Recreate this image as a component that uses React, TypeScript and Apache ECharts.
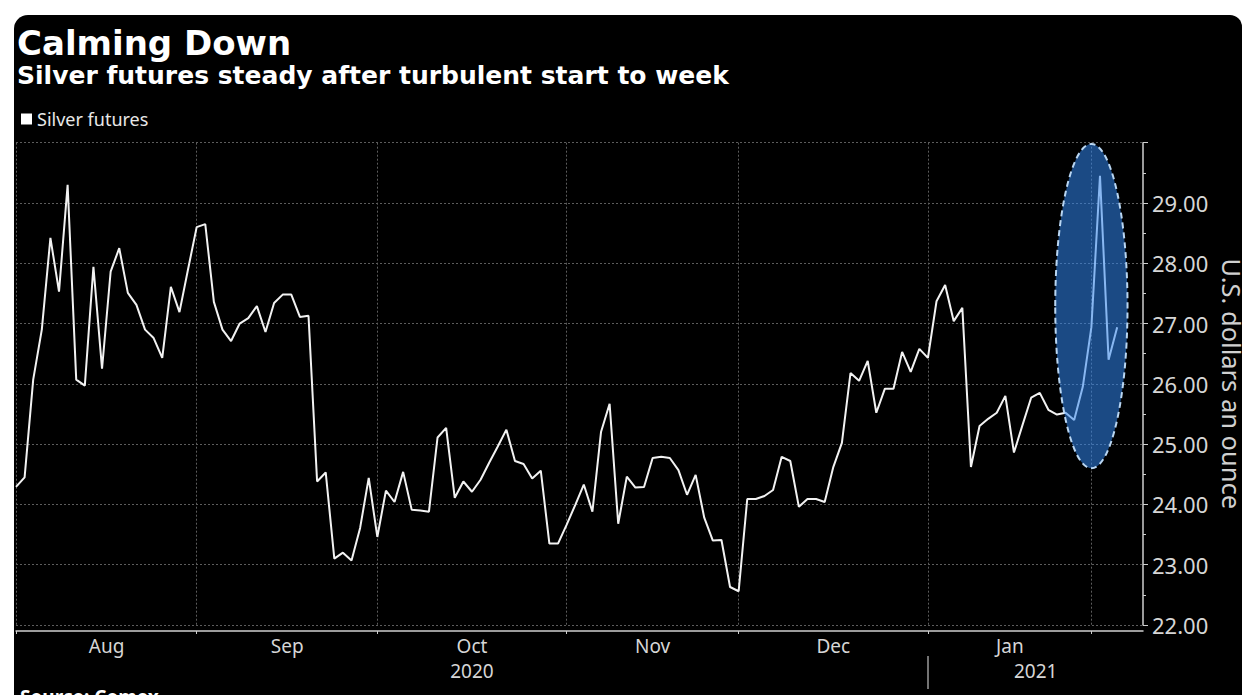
import React, { useEffect, useRef } from "react";
import * as echarts from "echarts";

// Trading days (categories)
const jul2020 = [31];
const aug2020 = [3, 4, 5, 6, 7, 10, 11, 12, 13, 14, 17, 18, 19, 20, 21, 24, 25, 26, 27, 28, 31];
const sep2020 = [1, 2, 3, 4, 8, 9, 10, 11, 14, 15, 16, 17, 18, 21, 22, 23, 24, 25, 28, 29, 30];
const oct2020 = [1, 2, 5, 6, 7, 8, 9, 12, 13, 14, 15, 16, 19, 20, 21, 22, 23, 26, 27, 28, 29, 30];
const nov2020 = [2, 3, 4, 5, 6, 9, 10, 11, 12, 13, 16, 17, 18, 19, 20, 23, 24, 25, 27, 30];
const dec2020 = [1, 2, 3, 4, 7, 8, 9, 10, 11, 14, 15, 16, 17, 18, 21, 22, 23, 24, 28, 29, 30, 31];
const jan2021 = [4, 5, 6, 7, 8, 11, 12, 13, 14, 15, 19, 20, 21, 22, 25, 26, 27, 28, 29];
const feb2021 = [1, 2, 3, 4, 5, 8];

// Silver futures closes (USD / oz)
const silverJul = [24.29];
const silverAug = [24.45, 26.07, 26.9, 28.42, 27.53, 29.3, 26.07, 25.97, 27.94, 26.25, 27.86, 28.25, 27.51, 27.31, 26.9, 26.76, 26.43, 27.61, 27.19, 27.9, 28.6];
const silverSep = [28.65, 27.36, 26.9, 26.71, 27.0, 27.09, 27.29, 26.86, 27.34, 27.48, 27.48, 27.11, 27.13, 24.38, 24.53, 23.1, 23.2, 23.07, 23.61, 24.44, 23.46];
const silverOct = [24.23, 24.04, 24.54, 23.91, 23.9, 23.88, 25.11, 25.27, 24.11, 24.38, 24.21, 24.41, 24.69, 24.96, 25.24, 24.72, 24.67, 24.43, 24.56, 23.35, 23.35, 23.66];
const silverNov = [23.99, 24.33, 23.88, 25.2, 25.67, 23.68, 24.46, 24.28, 24.29, 24.77, 24.79, 24.77, 24.57, 24.16, 24.49, 23.78, 23.4, 23.41, 22.63, 22.56];
const silverDec = [24.09, 24.09, 24.14, 24.24, 24.79, 24.72, 23.96, 24.09, 24.09, 24.04, 24.62, 25.02, 26.18, 26.05, 26.38, 25.52, 25.92, 25.92, 26.53, 26.2, 26.58, 26.43];
const silverJan = [27.37, 27.64, 27.04, 27.26, 24.62, 25.3, 25.42, 25.52, 25.8, 24.86, 25.32, 25.77, 25.85, 25.57, 25.49, 25.52, 25.4, 25.95, 26.94];
const silverFeb = [29.45, 26.4, 26.94];

const monthNames = ["Aug", "Sep", "Oct", "Nov", "Dec", "Jan"];
const yearNames = ["2020", "2021"];
const yTicksMin = 22;
const yTicksMax = 30;

// highlighted spike (category index / value) for the ellipse annotation
const spikeCenter = { index: 125, value: 27.29, topValue: 29.98, halfWidthCats: 4.2 };

const pad = (n: number) => (n < 10 ? "0" + n : "" + n);
const mk = (y: number, m: number, days: number[]) => days.map((d) => `${y}-${pad(m)}-${pad(d)}`);
const categories = [
  ...mk(2020, 7, jul2020),
  ...mk(2020, 8, aug2020),
  ...mk(2020, 9, sep2020),
  ...mk(2020, 10, oct2020),
  ...mk(2020, 11, nov2020),
  ...mk(2020, 12, dec2020),
  ...mk(2021, 1, jan2021),
  ...mk(2021, 2, feb2021),
];
const prices = [...silverJul, ...silverAug, ...silverSep, ...silverOct, ...silverNov, ...silverDec, ...silverJan, ...silverFeb];

// month-boundary ticks: last trading day of each month
const tickIdx: number[] = [];
for (let i = 0; i < categories.length - 1; i++) {
  if (categories[i].slice(5, 7) !== categories[i + 1].slice(5, 7)) tickIdx.push(i);
}
const tickSet = new Set(tickIdx);
let yearSep = -1;
for (let i = 0; i < categories.length - 1; i++) {
  if (categories[i].slice(0, 4) !== categories[i + 1].slice(0, 4)) yearSep = i;
}

// month labels centred between ticks
const monthLabelMap = new Map<number, string>();
for (let j = 0; j < tickIdx.length - 1 && j < monthNames.length; j++) {
  const mid = (tickIdx[j] + tickIdx[j + 1]) / 2;
  const idx = Math.floor(mid);
  monthLabelMap.set(idx, mid !== idx ? `{h|${monthNames[j]}}` : `{n|${monthNames[j]}}`);
}
const yearLabelMap = new Map<number, string>();
{
  const spans = [
    [tickIdx[0], yearSep],
    [yearSep, categories.length - 1],
  ];
  spans.forEach(([a, b], j) => {
    const mid = (a + b) / 2;
    const idx = Math.floor(mid);
    yearLabelMap.set(idx, mid !== idx ? `{h|${yearNames[j]}}` : `{n|${yearNames[j]}}`);
  });
}

const LABEL_FONT = "Noto Sans";
const labelColor = "#d6d6d6";
const richStyles = {
  h: { padding: [0, 0, 0, 9], color: labelColor, fontSize: 19, fontFamily: LABEL_FONT },
  n: { color: labelColor, fontSize: 19, fontFamily: LABEL_FONT },
};

export default function App() {
  const ref = useRef<HTMLDivElement>(null);

  useEffect(() => {
    document.body.style.margin = "0";
    if (!ref.current) return;
    const chart = echarts.init(ref.current, null, { renderer: "svg" });
    const gridColor = "#5c5c5c";
    chart.setOption({
      animation: false,
      backgroundColor: "transparent",
      title: [
        {
          text: "Calming Down",
          left: 17,
          top: 26,
          padding: 0,
          textStyle: { color: "#ffffff", fontSize: 34, fontWeight: "bold", fontFamily: "DejaVu Sans" },
        },
        {
          text: "Silver futures steady after turbulent start to week",
          left: 17,
          top: 63,
          padding: 0,
          textStyle: { color: "#ffffff", fontSize: 25, fontWeight: "bold", fontFamily: "DejaVu Sans" },
        },
      ],
      legend: {
        left: 21,
        top: 110,
        padding: 0,
        icon: "rect",
        itemWidth: 11,
        itemHeight: 11,
        itemGap: 10,
        selectedMode: false,
        textStyle: { color: "#e8e8e8", fontSize: 18, fontFamily: LABEL_FONT },
        data: ["Silver futures"],
      },
      grid: { left: 16, right: 99, top: 142.7, bottom: 70, containLabel: false, outerBoundsMode: "none" },
      xAxis: [
        {
          type: "category",
          data: categories,
          boundaryGap: false,
          offset: 6,
          axisLine: { show: true, lineStyle: { color: "#cfcfcf", width: 1.5 } },
          axisTick: {
            show: true,
            interval: (i: number) => tickSet.has(i),
            length: 3,
            lineStyle: { color: "#cfcfcf" },
          },
          axisLabel: {
            interval: (i: number) => monthLabelMap.has(i),
            formatter: (_v: string, i: number) => monthLabelMap.get(i) || "",
            margin: 5,
            color: labelColor,
            fontSize: 19,
            fontFamily: LABEL_FONT,
            rich: richStyles,
          },
          splitLine: {
            show: true,
            interval: (i: number) => tickSet.has(i),
            lineStyle: { color: gridColor, type: [2, 2], width: 1 },
          },
        },
        {
          type: "category",
          data: categories,
          boundaryGap: false,
          position: "bottom",
          offset: 31,
          axisLine: { show: false },
          axisTick: {
            show: true,
            interval: (i: number) => i === yearSep,
            length: 33,
            lineStyle: { color: "#9a9a9a", width: 1.5 },
          },
          axisLabel: {
            interval: (i: number) => yearLabelMap.has(i),
            formatter: (_v: string, i: number) => yearLabelMap.get(i) || "",
            margin: 5,
            color: labelColor,
            fontSize: 19,
            fontFamily: LABEL_FONT,
            rich: richStyles,
          },
          splitLine: { show: false },
        },
      ],
      yAxis: {
        type: "value",
        position: "right",
        min: yTicksMin,
        max: yTicksMax,
        interval: 1,
        axisLine: { show: true, lineStyle: { color: "#cfcfcf", width: 1.5 } },
        axisTick: { show: true, length: 5, lineStyle: { color: "#cfcfcf" } },
        minorTick: { show: true, splitNumber: 2, length: 3, lineStyle: { color: "#cfcfcf" } },
        axisLabel: {
          color: labelColor,
          fontSize: 22,
          fontFamily: LABEL_FONT,
          margin: 9,
          formatter: (v: number) => (v >= yTicksMax ? "" : v.toFixed(2)),
        },
        splitLine: { show: true, lineStyle: { color: gridColor, type: [2, 2], width: 1 } },
        name: "U.S. dollars an ounce",
        nameLocation: "middle",
        nameRotate: -90,
        nameGap: 71,
        nameTextStyle: { color: "#d0d0d0", fontSize: 25.5, fontFamily: LABEL_FONT },
      },
      series: [
        {
          type: "line",
          name: "Silver futures",
          xAxisIndex: 0,
          yAxisIndex: 0,
          data: prices,
          showSymbol: false,
          silent: true,
          lineStyle: { color: "#f2f2f2", width: 2 },
          itemStyle: { color: "#ffffff" },
          z: 3,
        },
      ],
    });

    const finder = { xAxisIndex: 0, yAxisIndex: 0 };
    const c = chart.convertToPixel(finder, [spikeCenter.index, spikeCenter.value]) as number[];
    const t = chart.convertToPixel(finder, [spikeCenter.index, spikeCenter.topValue]) as number[];
    const r1 = chart.convertToPixel(finder, [spikeCenter.index + 1, spikeCenter.value]) as number[];
    const step = r1[0] - c[0];
    chart.setOption({
      graphic: [
        {
          type: "ellipse",
          z: 100,
          silent: true,
          shape: { cx: c[0], cy: c[1], rx: step * spikeCenter.halfWidthCats, ry: c[1] - t[1] },
          style: {
            fill: "rgba(50,135,240,0.55)",
            stroke: "#b9d6f2",
            lineWidth: 2,
            lineDash: [6, 4],
          },
        },
        {
          type: "text",
          left: 20,
          top: 687,
          z: 100,
          style: { text: "Source: Comex", fill: "#ffffff", font: `bold 19px "${LABEL_FONT}"` },
        },
      ],
    });

    return () => chart.dispose();
  }, []);

  return (
    <div style={{ position: "relative", width: 1242, height: 695, background: "#ffffff", overflow: "hidden" }}>
      <div
        style={{
          position: "absolute",
          left: 14,
          top: 15,
          right: 0,
          bottom: -20,
          background: "#000000",
          borderTopLeftRadius: 14,
          borderTopRightRadius: 12,
        }}
      />
      <div ref={ref} style={{ position: "absolute", left: 0, top: 0, width: 1242, height: 695 }} />
    </div>
  );
}
